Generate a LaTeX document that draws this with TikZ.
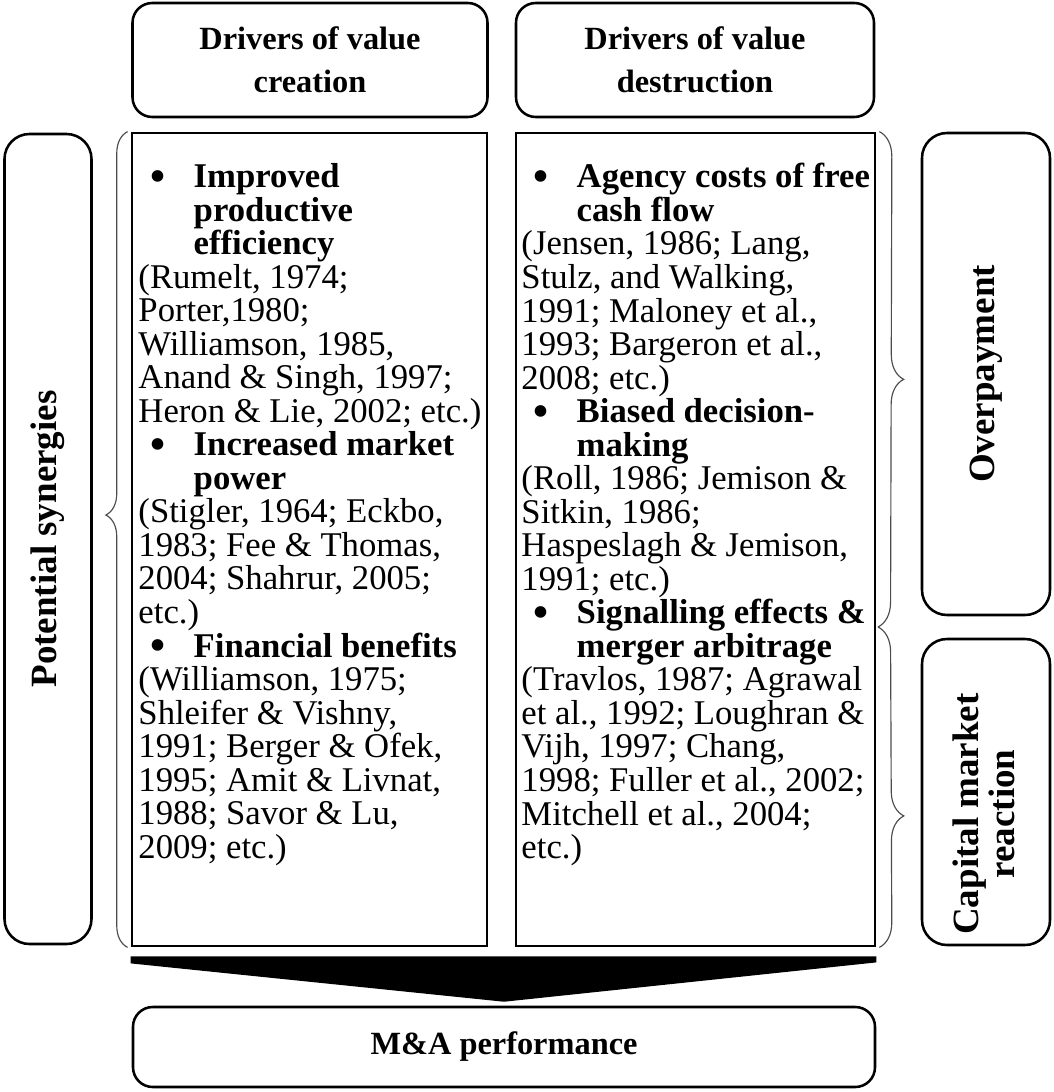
\documentclass[tikz,border=0pt]{standalone}
\usepackage{fontspec}
\setmainfont{Liberation Serif}
\usetikzlibrary{decorations.pathreplacing}

\begin{document}
\begin{tikzpicture}[x=0.0152cm,y=-0.0152cm]
	\tikzstyle{rbox}=[draw=black,line width=1.1pt,rounded corners=3mm,inner sep=0pt]
	\tikzstyle{sbox}=[draw=black,line width=1.2pt,inner sep=0pt]
	\tikzstyle{head}=[font=\fontsize{14}{18.6}\selectfont\bfseries,align=center]
	\tikzstyle{side}=[font=\fontsize{16}{15.5}\selectfont\bfseries,align=center,rotate=90]
	\tikzstyle{body}=[font=\fontsize{15}{14.5}\selectfont,align=left,inner sep=0pt,anchor=north west]
	\tikzstyle{brc}=[decorate,draw=black!70,line width=0.5pt]

	\def \pxl{0.0152cm}
	\def \bul{\makebox[0.84cm][l]{\hspace*{0.17cm}\smash{\raisebox{-2pt}{\scalebox{1.4}{\textbullet}}}}}
	\def \ind{\hspace*{0.84cm}}

	\useasboundingbox (0,0) rectangle (1054,1092);

	\node[rbox,head,minimum width=355*\pxl,minimum height=114*\pxl] (hcre) at (310,60)	{Drivers of value\\creation};
	\node[rbox,head,minimum width=358*\pxl,minimum height=114*\pxl] (hdes) at (695,60)	{Drivers of value\\destruction};

	\node[rbox,side,rounded corners=3.8mm,minimum width=810*\pxl,minimum height=87*\pxl] (syn) at (48,539) {Potential synergies};
	\node[rbox,side,rounded corners=3.8mm,minimum width=482*\pxl,minimum height=128*\pxl] (over) at (986,374) {Overpayment};
	\node[rbox,rounded corners=3.8mm,minimum width=128*\pxl,minimum height=306*\pxl] (cap) at (986,792) {};
	\node[side] (caplbl) at (984,814) {Capital market\\reaction};

	\node[sbox,minimum width=355*\pxl,minimum height=813*\pxl] (cre) at (309.5,539.5) {};
	\node[sbox,minimum width=359*\pxl,minimum height=813*\pxl] (des) at (695.5,539.5) {};

	\node[rbox,head,minimum width=742*\pxl,minimum height=80*\pxl] (perf) at (504,1047) {M\&A performance};

	\node[body] (cretxt) at (138,163) {%
		\bul\textbf{Improved}\\
		\ind\textbf{productive}\\
		\ind\textbf{efficiency}\\
		(Rumelt, 1974;\\
		Porter,1980;\\
		Williamson, 1985,\\
		Anand \& Singh, 1997;\\
		Heron \& Lie, 2002; etc.)\\
		\bul\textbf{Increased market}\\
		\ind\textbf{power}\\
		(Stigler, 1964; Eckbo,\\
		1983; Fee \& Thomas,\\
		2004; Shahrur, 2005;\\
		etc.)\\
		\bul\textbf{Financial benefits}\\
		(Williamson, 1975;\\
		Shleifer \& Vishny,\\
		1991; Berger \& Ofek,\\
		1995; Amit \& Livnat,\\
		1988; Savor \& Lu,\\
		2009; etc.)};

	\node[body] (destxt) at (521,163) {%
		\bul\textbf{Agency costs of free}\\
		\ind\textbf{cash flow}\\
		(Jensen, 1986; Lang,\\
		Stulz, and Walking,\\
		1991; Maloney et al.,\\
		1993; Bargeron et al.,\\
		2008; etc.)\\
		\bul\textbf{Biased decision-}\\
		\ind\textbf{making}\\
		(Roll, 1986; Jemison \&\\
		Sitkin, 1986;\\
		Haspeslagh \& Jemison,\\
		1991; etc.)\\
		\bul\textbf{Signalling effects \&}\\
		\ind\textbf{merger arbitrage}\\
		(Travlos, 1987; Agrawal\\
		et al., 1992; Loughran \&\\
		Vijh, 1997; Chang,\\
		1998; Fuller et al., 2002;\\
		Mitchell et al., 2004;\\
		etc.)};

	% braces
	\coordinate (split) at (878,627);
	\draw[brc,decoration={brace,amplitude=3.3mm,aspect=0.53}] ([xshift=-3*\pxl]cre.south west) -- ([xshift=-3*\pxl]cre.north west);
	\draw[brc,decoration={brace,amplitude=3.8mm}] ([xshift=3*\pxl]des.north east) -- (split);
	\draw[brc,decoration={brace,amplitude=3.8mm,aspect=0.59}] (split) -- ([xshift=3*\pxl]des.south east);

	% block arrow
	\fill ([yshift=-9*\pxl]cre.south west) -- ([yshift=-9*\pxl]des.south east) -- ([yshift=-15*\pxl]des.south east)
		-- ([yshift=4*\pxl]perf.north) -- ([yshift=-16*\pxl]cre.south west) -- cycle;
\end{tikzpicture}
\end{document}
